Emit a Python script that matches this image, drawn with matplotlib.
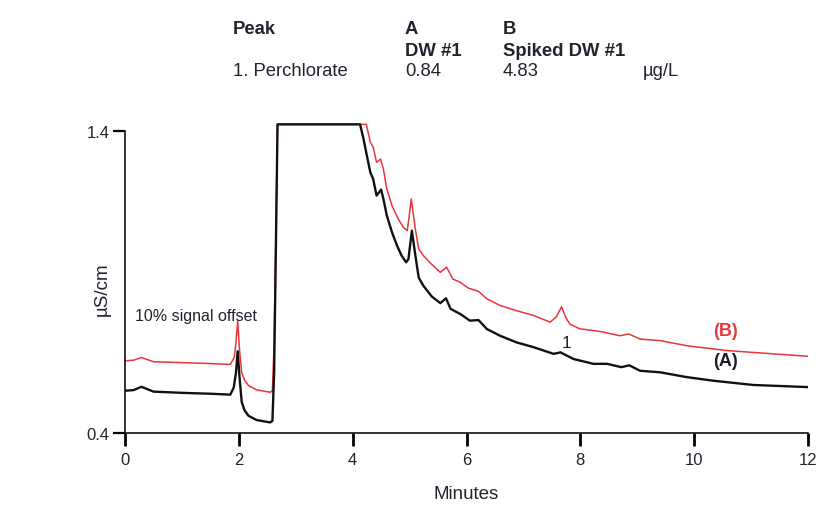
import matplotlib
matplotlib.use('Agg')
import matplotlib.pyplot as plt

plt.rcParams['font.family'] = ['Liberation Sans', 'DejaVu Sans']

# Trace A: DW #1 (black)
time_a = [0.0, 0.15, 0.29, 0.5, 1.0, 1.5, 1.85, 1.91, 1.95, 1.98, 2.01, 2.05, 2.10, 2.17, 2.31,
          2.55, 2.59, 2.62, 2.65, 2.68, 3.5, 4.13, 4.19, 4.25, 4.31, 4.36, 4.42, 4.50, 4.54,
          4.60, 4.69, 4.78, 4.86, 4.94, 4.98, 5.04, 5.10, 5.16, 5.24, 5.39, 5.54, 5.64, 5.72,
          5.89, 6.06, 6.21, 6.36, 6.59, 6.88, 7.18, 7.53, 7.65, 7.88, 8.23, 8.47, 8.72, 8.86,
          9.05, 9.40, 9.87, 10.34, 11.04, 12.0]
signal_a = [0.540, 0.542, 0.553, 0.537, 0.533, 0.530, 0.527, 0.550, 0.600, 0.671, 0.590, 0.503,
            0.475, 0.457, 0.443, 0.435, 0.440, 0.600, 1.000, 1.422, 1.422, 1.422, 1.374, 1.318,
            1.263, 1.241, 1.186, 1.206, 1.175, 1.120, 1.065, 1.020, 0.987, 0.965, 0.976, 1.070,
            0.990, 0.915, 0.888, 0.852, 0.830, 0.846, 0.811, 0.794, 0.772, 0.774, 0.744, 0.722,
            0.700, 0.684, 0.662, 0.667, 0.645, 0.629, 0.629, 0.618, 0.624, 0.606, 0.601, 0.585,
            0.573, 0.559, 0.552]

# Trace B: Spiked DW #1 (red)
time_b = [0.0, 0.15, 0.29, 0.5, 1.0, 1.5, 1.85, 1.92, 1.95, 1.98, 2.01, 2.05, 2.10, 2.17, 2.31,
          2.55, 2.59, 2.62, 2.65, 2.68, 3.5, 4.24, 4.31, 4.36, 4.42, 4.49, 4.54, 4.60, 4.69,
          4.80, 4.89, 4.96, 5.03, 5.10, 5.16, 5.24, 5.38, 5.54, 5.65, 5.76, 5.89, 6.03, 6.21,
          6.36, 6.59, 6.88, 7.18, 7.47, 7.58, 7.67, 7.75, 7.82, 7.99, 8.35, 8.70, 8.85, 9.05,
          9.40, 9.87, 10.57, 12.0]
signal_b = [0.639, 0.641, 0.650, 0.636, 0.633, 0.630, 0.627, 0.650, 0.700, 0.772, 0.680, 0.600,
            0.575, 0.557, 0.543, 0.535, 0.540, 0.700, 1.050, 1.422, 1.422, 1.422, 1.363, 1.346,
            1.296, 1.307, 1.274, 1.208, 1.153, 1.109, 1.081, 1.070, 1.175, 1.076, 1.010, 0.988,
            0.960, 0.932, 0.949, 0.910, 0.899, 0.880, 0.869, 0.844, 0.822, 0.805, 0.789, 0.767,
            0.785, 0.818, 0.780, 0.760, 0.745, 0.736, 0.722, 0.728, 0.711, 0.706, 0.689, 0.673,
            0.654]

x_ticks = [0, 2, 4, 6, 8, 10, 12]
y_ticks = [0.4, 1.4]

header_rows = [
    ['Peak', 'A', 'B', ''],
    ['', 'DW #1', 'Spiked DW #1', ''],
    ['1. Perchlorate', '0.84', '4.83', 'µg/L'],
]

text_color = '#23232f'
red = '#e8363b'

fig = plt.figure(figsize=(8.26, 5.06), dpi=100)
W, H = 826, 506
ax = fig.add_axes([125 / W, (H - 434) / H, (808 - 125) / W, (434 - 119.9) / H])

ax.plot(time_b, signal_b, color=red, lw=1.1, zorder=2)
ax.plot(time_a, signal_a, color='#111111', lw=1.7, zorder=3)

ax.set_xlim(0, 12)
ax.set_ylim(0.4, 1.44)
ax.spines['top'].set_visible(False)
ax.spines['right'].set_visible(False)
ax.spines['left'].set_bounds(0.4, 1.4)
for s in ['left', 'bottom']:
    ax.spines[s].set_linewidth(1.2)
    ax.spines[s].set_color('#111111')

ax.set_xticks(x_ticks)
ax.set_yticks(y_ticks)
ax.set_yticklabels(['0.4', '1.4'])
ax.tick_params(axis='x', direction='out', length=9.5, width=2, labelsize=12, pad=4,
               labelcolor=text_color)
ax.tick_params(axis='y', direction='out', length=9, width=1.6, labelsize=12, pad=2,
               labelcolor=text_color)

ax.set_xlabel('Minutes', fontsize=13.5, color=text_color, labelpad=13)
ax.set_ylabel('µS/cm', fontsize=13.5, color=text_color)
ax.yaxis.set_label_coords(-0.021, 0.46)

ax.text(0.18, 0.765, '10% signal offset', fontsize=11.5, color=text_color, ha='left', va='bottom')
ax.text(7.75, 0.676, '1', fontsize=12.5, color=text_color, ha='center', va='bottom')
ax.text(10.55, 0.712, '(B)', fontsize=13, fontweight='bold', color=red, ha='center', va='bottom')
ax.text(10.55, 0.611, '(A)', fontsize=13, fontweight='bold', color='#1c1c2a', ha='center', va='bottom')

# header table above the plot
col_x = [233, 405, 503, 643]
row_y = [30, 51, 72]
for r, row in enumerate(header_rows):
    for c, txt in enumerate(row):
        if not txt:
            continue
        bold = r < 2
        fig.text(col_x[c] / W, 1 - row_y[r] / H, txt, fontsize=13.3,
                 fontweight='bold' if bold else 'normal', color=text_color,
                 ha='left', va='center')

fig.savefig('out.png', dpi=100)
